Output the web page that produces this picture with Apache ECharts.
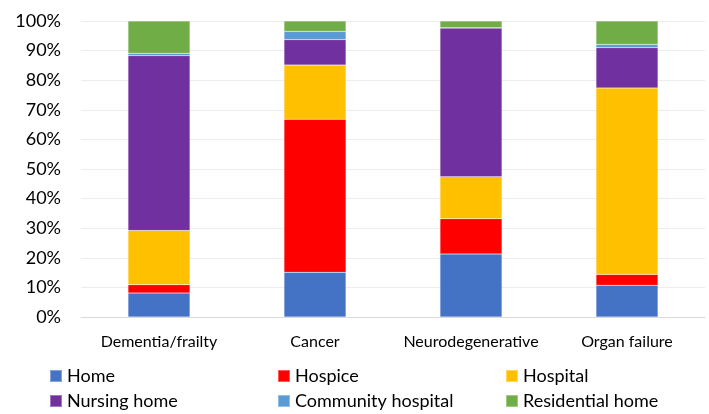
<!DOCTYPE html>
<html>
<head>
<meta charset="utf-8">
<script src="https://cdn.jsdelivr.net/npm/echarts@6/dist/echarts.min.js"></script>
<style>
  html, body { margin: 0; padding: 0; background: #fff; }
  #chart { width: 709px; height: 414px; }
</style>
</head>
<body>
<div id="chart"></div>
<script>
// Place of death by illness group (percent of deaths)
const categories = ['Dementia/frailty', 'Cancer', 'Neurodegenerative', 'Organ failure'];
const home        = [8.1, 15.1, 21.3, 10.7];
const hospice     = [2.8, 51.7, 11.9, 3.7];
const hospital    = [18.3, 18.3, 14.2, 63.0];
const nursingHome = [59.1, 8.6, 50.2, 13.6];
const communityHospital = [0.8, 2.8, 0.1, 1.1];
const residentialHome   = [10.9, 3.5, 2.3, 7.9];
const yTicks = [0, 10, 20, 30, 40, 50, 60, 70, 80, 90, 100];

const FONT = 'Lato, "Liberation Sans", sans-serif';

const seriesDefs = [
  { name: 'Home', data: home, color: '#4472C4' },
  { name: 'Hospice', data: hospice, color: '#FF0000' },
  { name: 'Hospital', data: hospital, color: '#FFC000' },
  { name: 'Nursing home', data: nursingHome, color: '#7030A0' },
  { name: 'Community hospital', data: communityHospital, color: '#5B9BD5' },
  { name: 'Residential home', data: residentialHome, color: '#70AD47' }
];

// legend laid out as a 3 x 2 table: column left edges and row tops
const legendCols = [44, 272, 500];
const legendRows = [362, 387];

const chart = echarts.init(document.getElementById('chart'), null, { renderer: 'canvas' });

const legends = seriesDefs.map((s, i) => ({
  left: legendCols[i % 3],
  top: legendRows[Math.floor(i / 3)],
  itemWidth: 12,
  itemHeight: 12,
  icon: 'rect',
  selectedMode: false,
  data: [s.name],
  textStyle: { fontFamily: FONT, fontSize: 18, color: '#000' }
}));

chart.setOption({
  animation: false,
  grid: { left: 81, right: 4, top: 21, bottom: 97 },
  legend: legends,
  xAxis: {
    type: 'category',
    data: categories,
    axisLine: { lineStyle: { color: '#d9d9d9', width: 1 } },
    axisTick: { show: false },
    axisLabel: { interval: 0, fontFamily: FONT, fontSize: 16, color: '#000', margin: 17 }
  },
  yAxis: {
    type: 'value',
    min: yTicks[0],
    max: yTicks[yTicks.length - 1],
    interval: 10,
    axisLine: { show: false },
    axisTick: { show: false },
    splitLine: { lineStyle: { color: '#ececec', width: 1 } },
    axisLabel: { fontFamily: FONT, fontSize: 18, color: '#000', margin: 20, formatter: '{value}%' }
  },
  series: seriesDefs.map(s => ({
    name: s.name,
    type: 'bar',
    stack: 'total',
    data: s.data,
    barWidth: 62,
    itemStyle: { color: s.color, borderColor: 'rgba(255,255,255,0.35)', borderWidth: 0.5 }
  }))
});
</script>
</body>
</html>
